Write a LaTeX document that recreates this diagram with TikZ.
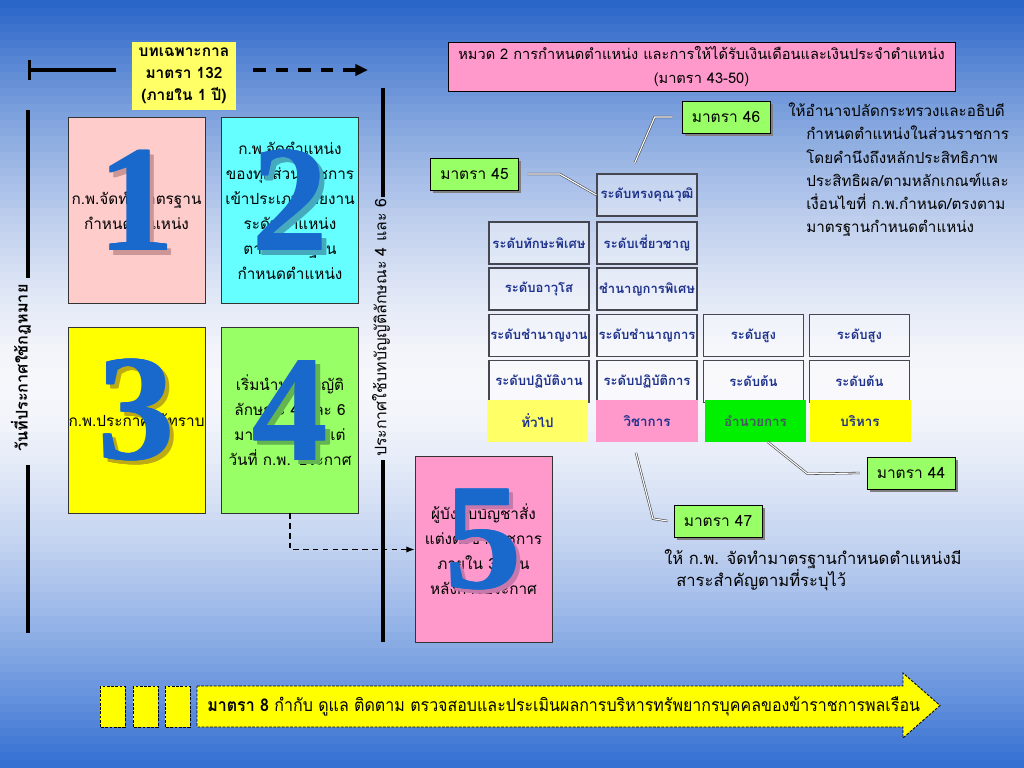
\documentclass[tikz,border=0pt]{standalone}
\usepackage{fontspec}
\setmainfont{Loma}[Script=Thai]
\newfontfamily\numfont{Liberation Serif}
\usetikzlibrary{arrows.meta,shadows}
\definecolor{bgtop}{RGB}{40,100,200}
\definecolor{bgmid}{RGB}{248,248,252}
\definecolor{bgbot}{RGB}{50,110,210}
\definecolor{pinkA}{RGB}{255,204,204}
\definecolor{cyanA}{RGB}{102,255,255}
\definecolor{yellowA}{RGB}{255,255,0}
\definecolor{greenA}{RGB}{153,255,102}
\definecolor{pinkB}{RGB}{255,153,204}
\definecolor{headyellow}{RGB}{255,255,102}
\definecolor{numblue}{RGB}{25,105,205}
\definecolor{shadeA}{RGB}{205,150,150}
\definecolor{shadeB}{RGB}{70,170,190}
\definecolor{shadeC}{RGB}{190,170,20}
\definecolor{shadeD}{RGB}{100,180,80}
\definecolor{shadeE}{RGB}{200,120,170}
\definecolor{levelblue}{RGB}{30,50,140}
\definecolor{boxgray}{RGB}{70,70,80}
\definecolor{limegreen}{RGB}{0,240,0}
\begin{document}
\begin{tikzpicture}[x=0.025cm, y=-0.025cm,
  stepbox/.style={draw=black!80, minimum width=3.425cm, minimum height=4.65cm,
    align=center, inner sep=0pt, font=\fontsize{10.9}{17.8}\selectfont},
  numeral/.style={font=\numfont\bfseries\fontsize{108}{108}\selectfont,
    text=numblue, inner sep=0pt},
  levelbox/.style={draw=boxgray, line width=0.9pt, fill=white, fill opacity=0.35,
    text opacity=1, minimum width=2.5cm, minimum height=1.05cm, inner sep=0pt,
    text=levelblue, font=\bfseries\fontsize{9.3}{11}\selectfont},
  groupbox/.style={minimum width=2.525cm, minimum height=1.025cm, inner sep=0pt,
    text=levelblue, font=\bfseries\fontsize{9.5}{11}\selectfont},
  lawbox/.style={draw=black, fill=greenA, minimum width=2.2cm, minimum height=0.8cm,
    font=\fontsize{11}{13}\selectfont,
    drop shadow={shadow xshift=2pt, shadow yshift=-2pt, fill=black!50, opacity=1}},
  callout/.style={draw=black!75, double=white, double distance=0.8pt, line width=0.4pt},
  timeline/.style={line width=2.2pt, black}]
\useasboundingbox (0,0) rectangle (1024,768);
% background, blue - white - blue
\foreach \i in {0,...,47} {
  \pgfmathtruncatemacro\p{100*(1-(1-(\i+0.5)/48)^1.5)}
  \fill[bgmid!\p!bgtop] (0,8*\i) rectangle (1024,8*\i+8.4);
}
\foreach \i in {48,...,95} {
  \pgfmathtruncatemacro\p{100*(1-(1-(95.5-\i)/48)^1.5)}
  \fill[bgmid!\p!bgbot] (0,8*\i) rectangle (1024,8*\i+8.4);
}

% time line of the interim provisions
\node[fill=headyellow, minimum width=2.6cm, minimum height=1.7cm, align=center,
  font=\bfseries\fontsize{11}{15.5}\selectfont] (interim) at (184,76)
  {บทเฉพาะกาล\\มาตรา 132\\(ภายใน 1 ปี)};
\draw[timeline, {Bar[width=14pt]}-] (28,70) -- (116,70);
\draw[timeline, dash pattern=on 9pt off 7pt, -{Triangle[length=9pt,width=8pt]}] (253,70) -- (368,70);
\draw[timeline] (28,110) -- (28,278) (28,465) -- (28,633);
\draw[timeline] (383,88) -- (383,197) (383,460) -- (383,642);
\node[rotate=90, font=\bfseries\fontsize{11.5}{13}\selectfont] (lawday) at (21,368) {วันที่ประกาศใช้กฎหมาย};
\node[rotate=90, font=\fontsize{11.3}{13}\selectfont] (enforce) at (381,328) {ประกาศใช้บทบัญญัติลักษณะ 4 และ 6};

% the five steps
\node[stepbox, fill=pinkA] (s1) at (136.5,210.5) {ก.พ.จัดทำมาตรฐาน\\กำหนดตำแหน่ง};
\node[stepbox, fill=cyanA] (s2) at (290,210.5) {ก.พ.จัดตำแหน่ง\\ของทุกส่วนราชการ\\เข้าประเภทสายงาน\\ระดับตำแหน่ง\\ตามมาตรฐาน\\กำหนดตำแหน่ง};
\node[stepbox, fill=yellowA] (s3) at (136.5,420) {ก.พ.ประกาศให้ทราบ};
\node[stepbox, fill=greenA] (s4) at (290,420) {เริ่มนำบทบัญญัติ\\ลักษณะ 4 และ 6\\มาใช้บังคับตั้งแต่\\วันที่ ก.พ. ประกาศ};
\node[stepbox, fill=pinkB] (s5) at (483.5,549.5) {ผู้บังคับบัญชาสั่ง\\แต่งตั้งข้าราชการ\\ภายใน 30 วัน\\หลังการประกาศ};
\foreach \s/\n/\sh in {s1/1/shadeA, s2/2/shadeB, s3/3/shadeC, s4/4/shadeD, s5/5/shadeE} {
  \foreach \dx in {-0.6,0,0.6}
    \node[numeral, text=\sh] at ([xshift={(3+\dx)*1pt}, yshift=4pt]\s.center) {\n};
  \foreach \dx in {-0.6,0.6}
    \node[numeral] at ([xshift={\dx*1pt}, yshift=7pt]\s.center) {\n};
  \node[numeral] (n\n) at ([yshift=7pt]\s.center) {\n};
}
\draw[line width=0.9pt, dash pattern=on 4pt off 3pt, -{Latex[length=6pt]}] (s4.south) |- (s5.west);

% chapter 2
\node[draw=black, fill=pinkB, minimum width=12.675cm, minimum height=1.225cm, align=center,
  font=\fontsize{10.4}{16.5}\selectfont] (chapter) at (701.5,66.5)
  {หมวด 2 การกำหนดตำแหน่ง และการให้ได้รับเงินเดือนและเงินประจำตำแหน่ง\\(มาตรา 43-50)};
\foreach \name/\x/\y/\txt in {g1/647/195/ระดับทรงคุณวุฒิ, g2/539/243/ระดับทักษะพิเศษ,
  g3/647/243/ระดับเชี่ยวชาญ, g4/539/289/ระดับอาวุโส, g5/647/289/ชำนาญการพิเศษ,
  g6/539/335.5/ระดับชำนาญงาน, g7/647/335.5/ระดับชำนาญการ, g8/753.5/335.5/ระดับสูง,
  g9/859.5/335.5/ระดับสูง, g10/539/381.5/ระดับปฏิบัติงาน, g11/647/381.5/ระดับปฏิบัติการ,
  g12/753.5/381.5/ระดับต้น, g13/859.5/381.5/ระดับต้น}
  \node[levelbox] (\name) at (\x,\y) {\txt};
\node[groupbox, fill=headyellow] (cat1) at (537.5,421) {ทั่วไป};
\node[groupbox, fill=pinkB] (cat2) at (647,421) {วิชาการ};
\node[groupbox, fill=limegreen, text=black!70!cyan] (cat3) at (755.5,421) {อำนวยการ};
\node[groupbox, fill=yellowA] (cat4) at (860,421) {บริหาร};

\node[lawbox] (m46) at (726,117) {มาตรา 46};
\node[lawbox] (m45) at (474.5,174) {มาตรา 45};
\node[lawbox] (m44) at (911,473) {มาตรา 44};
\node[lawbox] (m47) at (718,521) {มาตรา 47};
\draw[callout] ([xshift=0.225cm]m45.east) -- ++(32,0) -- (g1.west);
\draw[callout] ([xshift=-0.225cm]m46.west) -- ++(-18,0) -- ++(-20,46);
\draw[callout] ([xshift=0.3cm]cat3.south) -- ++(40,32) -- ([xshift=-0.175cm]m44.west);
\draw[callout] ([xshift=-0.275cm, yshift=-0.275cm]cat2.south) -- ++(17,66) -- ([xshift=-0.15cm]m47.west);

\node[anchor=north west, align=left, inner sep=0pt, font=\fontsize{10.8}{16.4}\selectfont] (t46) at (788,103)
  {ให้อำนาจปลัดกระทรวงและอธิบดี\\
   \hspace*{0.45cm}กำหนดตำแหน่งในส่วนราชการ\\
   \hspace*{0.45cm}โดยคำนึงถึงหลักประสิทธิภาพ\\
   \hspace*{0.45cm}ประสิทธิผล/ตามหลักเกณฑ์และ\\
   \hspace*{0.45cm}เงื่อนไขที่ ก.พ.กำหนด/ตรงตาม\\
   \hspace*{0.45cm}มาตรฐานกำหนดตำแหน่ง};
\node[anchor=north west, align=left, inner sep=0pt, font=\fontsize{11.8}{16}\selectfont] (t47) at (664,549)
  {ให้ ก.พ. จัดทำมาตรฐานกำหนดตำแหน่งมี\\\hspace*{0.3cm}สาระสำคัญตามที่ระบุไว้};

% section 8 arrow
\foreach \x in {100,133,165}
  \filldraw[fill=yellowA, draw=black, line width=0.6pt, dash pattern=on 2pt off 1pt] (\x,686) rectangle ++(25,41);
\filldraw[fill=yellowA, draw=black, line width=0.6pt, dash pattern=on 2pt off 1pt]
  (197,686) -- (903,686) -- (903,673) -- (940,705.5) -- (903,738) -- (903,727) -- (197,727) -- cycle;
\node[anchor=west, inner sep=0pt, font=\fontsize{12.5}{14}\selectfont] (sec8) at (207,706.5)
  {\scalebox{0.91}[1]{\textbf{มาตรา 8} กำกับ ดูแล ติดตาม ตรวจสอบและประเมินผลการบริหารทรัพยากรบุคคลของข้าราชการพลเรือน}};
\end{tikzpicture}
\end{document}
